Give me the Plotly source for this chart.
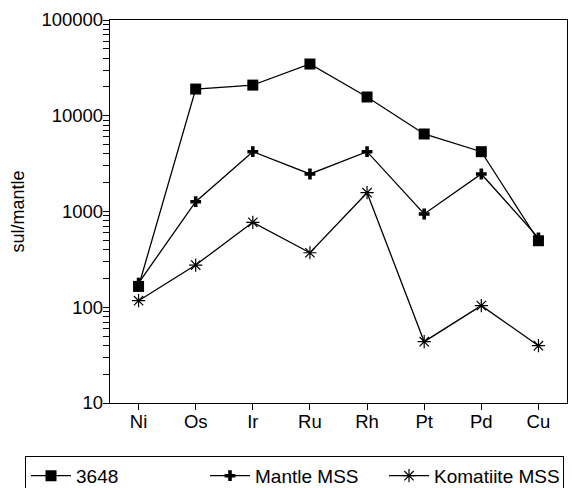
import plotly.graph_objects as go

elements = ["Ni", "Os", "Ir", "Ru", "Rh", "Pt", "Pd", "Cu"]
s3648 = [165, 19000, 20900, 34700, 15700, 6450, 4215, 495]
mantle_mss = [179, 1265, 4215, 2465, 4215, 942, 2465, 530]
komatiite_mss = [117, 276, 771, 371, 1572, 43.7, 104, 39.7]

y_major = [10, 100, 1000, 10000, 100000]
y_major_text = ["10", "100", "1000", "10000", "100000"]
y_minor = [m * d for d in [10, 100, 1000, 10000] for m in range(2, 10)]

x_idx = list(range(len(elements)))

fig = go.Figure()
fig.add_trace(go.Scatter(x=x_idx, y=s3648, name="3648", mode="lines+markers",
                         line=dict(color="black", width=1.3),
                         marker=dict(symbol="square", size=11, color="black")))
fig.add_trace(go.Scatter(x=x_idx, y=mantle_mss, name="Mantle MSS", mode="lines+markers",
                         line=dict(color="black", width=1.3),
                         marker=dict(symbol="cross", size=9, color="black")))
fig.add_trace(go.Scatter(x=x_idx, y=komatiite_mss, name="Komatiite MSS", mode="lines+markers",
                         line=dict(color="black", width=1.3),
                         marker=dict(symbol="asterisk-open", size=11, color="black",
                                     line=dict(color="black", width=1.2))))

fig.update_layout(
    width=574, height=488,
    margin=dict(l=110, r=7, t=20, b=85, autoexpand=False),
    paper_bgcolor="white", plot_bgcolor="white",
    font=dict(family="Liberation Sans, Arial, sans-serif", size=18.5, color="black"),
    showlegend=True,
    legend=dict(orientation="h", x=-0.186, y=-0.138, xanchor="left", yanchor="top",
                bordercolor="black", borderwidth=1, bgcolor="white",
                entrywidth=124, entrywidthmode="pixels",
                font=dict(size=19, color="black"), itemwidth=40),
)
fig.update_xaxes(
    range=[-0.5, 7.5], tickmode="array", tickvals=x_idx, ticktext=elements,
    showgrid=False, zeroline=False, showline=True, linecolor="black", linewidth=1.3,
    mirror=True, ticks="outside", ticklen=6, tickcolor="black",
    tickfont=dict(size=18.5, color="black"),
)
fig.update_yaxes(
    type="log", range=[1, 5], tickmode="array", tickvals=y_major, ticktext=y_major_text,
    showgrid=False, zeroline=False, showline=True, linecolor="black", linewidth=1.3,
    mirror=True, ticks="outside", ticklen=6, tickcolor="black",
    tickfont=dict(size=18.5, color="black"),
    minor=dict(tickmode="array", tickvals=y_minor, ticks="outside", ticklen=6,
               tickcolor="black", showgrid=False),
    title=dict(text="sul/mantle", font=dict(size=18, color="black"), standoff=12),
)
try:
    fig.update_xaxes(ticklabelstandoff=-4)
    fig.update_yaxes(ticklabelstandoff=-4)
except Exception:
    pass

fig.write_html("out.html")
